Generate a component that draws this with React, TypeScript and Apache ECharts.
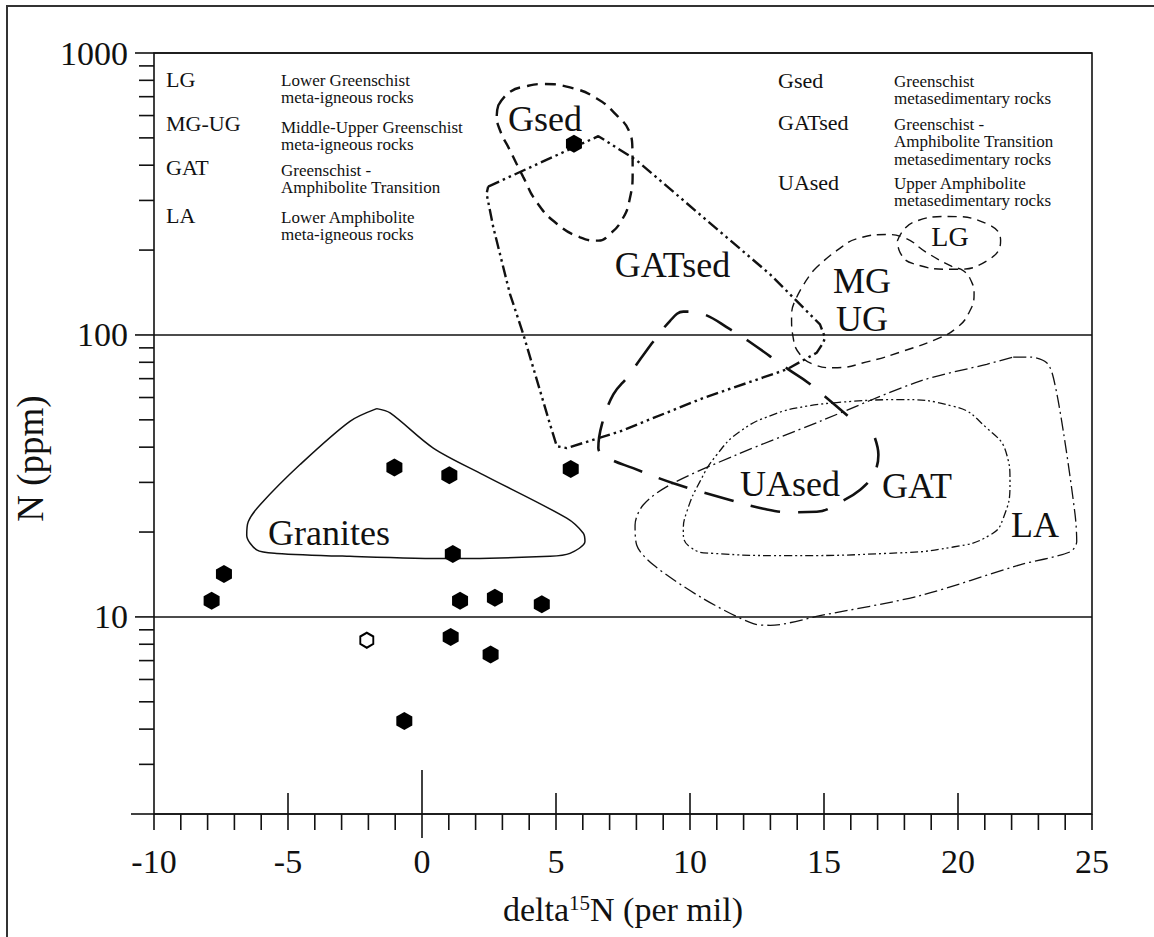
import React, { useEffect, useRef } from "react";
import * as echarts from "echarts";

const FONT = '"Liberation Serif", "Times New Roman", Times, serif';
const INK = "#111";

// ---- axes ----
const X_MIN = -10;
const X_MAX = 25;
const Y_MIN = 2;
const Y_MAX = 1000;
const xTickValues = [-10, -9, -8, -7, -6, -5, -4, -3, -2, -1, 0, 1, 2, 3, 4, 5, 6, 7, 8, 9, 10, 11, 12, 13, 14, 15, 16, 17, 18, 19, 20, 21, 22, 23, 24, 25];
const yTickValues = [3, 4, 5, 6, 7, 8, 9, 10, 20, 30, 40, 50, 60, 70, 80, 90, 100, 200, 300, 400, 500, 600, 700, 800, 900, 1000];

// ---- samples (delta15N, N ppm) ----
const filledSamples = [
  [-7.85, 11.4], [-7.39, 14.2], [-1.03, 33.9], [1.02, 31.8], [1.15, 16.7], [1.42, 11.4],
  [2.72, 11.7], [4.47, 11.1], [1.07, 8.49], [2.56, 7.35], [-0.66, 4.27], [5.55, 33.5], [5.67, 477],
];
const openSamples = [[-2.06, 8.27]];

// ---- field outlines (delta15N, N ppm) ----
const granitesField = [
  [-1.69, 54.8], [-2.69, 49.4], [-4.55, 34.7], [-6.04, 25.0], [-6.48, 21.8], [-6.54, 19.5], [-6.17, 17.3],
  [-5.42, 16.8], [-2.69, 16.4], [1.04, 16.1], [4.78, 16.4], [5.52, 16.8], [6.08, 18.5], [6.02, 19.8],
  [5.40, 22.4], [2.29, 31.9], [0.42, 39.7], [-1.19, 52.9], [-1.69, 54.8],
];
const gsedField = [
  [2.85, 653], [3.28, 728], [3.91, 763], [4.53, 776], [5.52, 755], [6.52, 690], [7.26, 602], [7.74, 525],
  [7.85, 458], [7.86, 383], [7.74, 300], [7.45, 255], [7.01, 228], [6.58, 216], [5.90, 222], [5.03, 248],
  [4.28, 296], [3.78, 363], [3.28, 452], [2.91, 532], [2.79, 602], [2.85, 653],
];
const gatsedField = [
  [2.47, 336], [6.58, 507], [6.83, 490], [8.01, 416], [10.50, 261], [12.99, 164], [14.85, 109], [15.04, 97.8],
  [14.97, 93.9], [14.73, 86.5], [13.61, 75.5], [10.50, 59.8], [7.39, 45.5], [5.40, 39.7], [5.03, 40.3],
  [4.78, 48.1], [3.78, 100.6], [3.28, 140], [2.66, 241], [2.41, 317], [2.47, 336],
];
const uasedField = [
  [16.90, 43.1], [17.03, 37.6], [16.84, 31.9], [16.34, 28.2], [15.66, 25.7], [14.73, 23.6], [13.73, 23.5],
  [12.74, 24.2], [11.49, 26.0], [9.38, 29.8], [7.88, 33.7], [6.95, 36.6], [6.58, 39.7], [6.71, 48.1],
  [7.14, 61.5], [7.70, 71.5], [8.32, 86.5], [9.25, 112], [9.75, 121], [10.50, 118.5], [11.49, 104.8],
  [12.18, 95.2], [13.67, 75.5], [14.41, 67.7], [15.97, 50.8],
];
const mgugField = [
  [14.60, 169], [15.47, 199], [16.34, 221], [17.34, 227], [17.96, 222], [18.83, 196], [19.77, 175],
  [20.20, 169], [20.51, 154], [20.60, 140], [20.38, 118.5], [19.95, 106], [19.33, 97.8], [17.96, 87.7],
  [16.72, 80.8], [15.35, 76.5], [14.60, 78.7], [14.10, 85.4], [13.85, 97.8], [13.79, 115], [13.98, 136],
  [14.60, 169],
];
const lgField = [
  [17.74, 216], [18.33, 251], [19.64, 263], [21.07, 248], [21.59, 216], [21.07, 183], [19.82, 171],
  [18.33, 179], [17.84, 196], [17.74, 216],
];
const gatField = [
  [15.35, 57.4], [17.71, 59.0], [19.82, 55.9], [21.07, 46.8], [21.82, 37.6], [21.94, 30.2], [21.69, 22.4],
  [21.19, 19.5], [19.82, 17.7], [17.34, 16.8], [13.61, 16.5], [10.87, 16.8], [10.00, 17.7], [9.75, 20.1],
  [9.88, 23.6], [10.37, 30.2], [11.00, 37.6], [11.87, 45.5], [13.11, 52.2], [14.35, 55.9], [15.35, 57.4],
];
const laField = [
  [22.06, 83.5], [22.69, 83.5], [23.31, 79.7], [23.56, 70.5], [23.93, 45.5], [24.37, 23.0], [24.43, 18.5],
  [24.18, 17.0], [22.31, 15.3], [18.58, 11.9], [14.85, 10.1], [12.99, 9.34], [12.36, 9.47], [10.50, 11.6],
  [8.63, 15.3], [8.01, 18.0], [7.95, 21.2], [8.26, 25.0], [9.25, 29.4], [11.74, 37.6], [14.85, 49.4],
  [18.58, 68.6], [21.07, 78.7], [22.06, 83.5],
];

// ---- field labels ----
const fieldLabelText = ["Gsed", "GATsed", "MG\nUG", "LG", "UAsed", "GAT", "LA", "Granites"];
const fieldLabelX = [4.59, 9.35, 16.42, 19.7, 13.73, 18.47, 22.87, -3.47];
const fieldLabelY = [582, 177, 133, 223, 29.7, 29.2, 21.1, 19.9];

// ---- legend text ----
const legendAbbrLeft = ["LG", "MG-UG", "GAT", "LA"];
const legendDescLeft = [
  "Lower Greenschist\nmeta-igneous rocks",
  "Middle-Upper Greenschist\nmeta-igneous rocks",
  "Greenschist -\nAmphibolite Transition",
  "Lower Amphibolite\nmeta-igneous rocks",
];
const legendAbbrRight = ["Gsed", "GATsed", "UAsed"];
const legendDescRight = [
  "Greenschist\nmetasedimentary rocks",
  "Greenschist -\nAmphibolite Transition\nmetasedimentary rocks",
  "Upper Amphibolite\nmetasedimentary rocks",
];

const HEX = "path://M50,0 L93.3,25 L93.3,75 L50,100 L6.7,75 L6.7,25 Z";

function contour(name: string, data: number[][], type: any, width: number, smooth: number | boolean) {
  return {
    type: "line",
    name,
    data,
    symbol: "none",
    showSymbol: false,
    smooth,
    silent: true,
    z: 3,
    lineStyle: { color: INK, width, type, opacity: 1 },
  };
}

function buildOption() {
  const leftAbbrY = [79, 123, 167, 215];
  const leftDescY = [80, 127, 170, 217];
  const rightAbbrY = [80, 122, 182];
  const rightDescY = [81, 124, 183];
  const LH = 17.5;

  const graphics: any[] = [
    {
      type: "rect",
      silent: true,
      z: -10,
      shape: { x: 7, y: 6, width: 1170, height: 1000 },
      style: { fill: "none", stroke: "#333", lineWidth: 2 },
    },
  ];
  legendAbbrLeft.forEach((t, i) =>
    graphics.push({
      type: "text",
      silent: true,
      x: 166,
      y: leftAbbrY[i],
      style: { text: t, font: `22px ${FONT}`, fill: INK, verticalAlign: "middle", align: "left" },
    })
  );
  legendDescLeft.forEach((t, i) =>
    graphics.push({
      type: "text",
      silent: true,
      x: 281,
      y: leftDescY[i] - LH / 2,
      style: { text: t, font: `17px ${FONT}`, fill: INK, verticalAlign: "top", align: "left", lineHeight: LH },
    })
  );
  legendAbbrRight.forEach((t, i) =>
    graphics.push({
      type: "text",
      silent: true,
      x: 778,
      y: rightAbbrY[i],
      style: { text: t, font: `22px ${FONT}`, fill: INK, verticalAlign: "middle", align: "left" },
    })
  );
  legendDescRight.forEach((t, i) =>
    graphics.push({
      type: "text",
      silent: true,
      x: 894,
      y: rightDescY[i] - LH / 2,
      style: { text: t, font: `17px ${FONT}`, fill: INK, verticalAlign: "top", align: "left", lineHeight: LH },
    })
  );

  const tickStyle = { stroke: INK, lineWidth: 1.6 };

  return {
    animation: false,
    backgroundColor: "#fff",
    grid: {
      left: 154,
      right: 62,
      top: 53,
      bottom: 123,
      show: true,
      borderColor: INK,
      borderWidth: 1.6,
      backgroundColor: "transparent",
      outerBoundsMode: "none",
    },
    xAxis: {
      type: "value",
      min: X_MIN,
      max: X_MAX,
      interval: 5,
      axisLine: { show: false },
      axisTick: { show: false },
      splitLine: { show: false },
      axisLabel: { fontFamily: FONT, fontSize: 34, color: INK, margin: 30 },
      name: "{a|delta}{s|15}{a|N (per mil)}",
      nameLocation: "middle",
      nameGap: 78,
      nameTextStyle: {
        fontFamily: FONT,
        fontSize: 34,
        color: INK,
        rich: {
          a: { fontFamily: FONT, fontSize: 34, color: INK },
          s: { fontFamily: FONT, fontSize: 21, color: INK, verticalAlign: "top" },
        },
      },
    },
    yAxis: {
      type: "log",
      logBase: 10,
      min: Y_MIN,
      max: Y_MAX,
      axisLine: { show: false },
      axisTick: { show: false },
      splitLine: { show: true, lineStyle: { color: INK, width: 1.6 } },
      axisLabel: {
        fontFamily: FONT,
        fontSize: 34,
        color: INK,
        margin: 26,
        formatter: (v: number) => {
          const l = Math.log10(v);
          return Math.abs(l - Math.round(l)) < 1e-6 && v >= 10 ? String(Math.round(v)) : "";
        },
      },
      name: "N (ppm)",
      nameLocation: "middle",
      nameRotate: 90,
      nameGap: 72,
      nameTextStyle: { fontFamily: FONT, fontSize: 37, color: INK, padding: [0, 50, 0, 0] },
    },
    graphic: graphics,
    series: [
      {
        type: "custom",
        name: "xTicks",
        silent: true,
        clip: false,
        z: 2,
        data: xTickValues.map((v) => [v, Y_MIN]),
        renderItem: (params: any, api: any) => {
          const v = api.value(0);
          const p = api.coord([v, api.value(1)]);
          let up = 0;
          let down = 16;
          if (v === 0) {
            up = 44;
            down = 24;
          } else if (v % 5 === 0 && v !== X_MIN && v !== X_MAX) {
            up = 21;
            down = 16;
          }
          const children: any[] = [
            { type: "line", shape: { x1: p[0], y1: p[1] - up, x2: p[0], y2: p[1] + down }, style: tickStyle },
          ];
          if (v === X_MIN) {
            children.push({ type: "line", shape: { x1: p[0] - 23, y1: p[1], x2: p[0], y2: p[1] }, style: tickStyle });
          }
          return { type: "group", children };
        },
      },
      {
        type: "custom",
        name: "yTicks",
        silent: true,
        clip: false,
        z: 2,
        data: yTickValues.map((v) => [X_MIN, v]),
        renderItem: (params: any, api: any) => {
          const v = api.value(1);
          const p = api.coord([api.value(0), v]);
          const l = Math.log10(v);
          const major = Math.abs(l - Math.round(l)) < 1e-6;
          const len = major ? 19 : 15;
          return { type: "line", shape: { x1: p[0] - len, y1: p[1], x2: p[0], y2: p[1] }, style: tickStyle };
        },
      },
      contour("Granites", granitesField, "solid", 1.5, 0.3),
      contour("Gsed", gsedField, [11, 7], 2.4, 0.5),
      contour("GATsed", gatsedField, [12, 4, 2.5, 4, 2.5, 4], 2.4, false),
      contour("UAsed", uasedField, [30, 18], 2.6, 0.4),
      contour("MG-UG", mgugField, [9, 6], 1.4, 0.5),
      contour("LG", lgField, [9, 6], 1.4, 0.5),
      contour("GAT", gatField, [8, 3, 2, 3, 2, 3], 1.3, 0.5),
      contour("LA", laField, [13, 4, 2, 4], 1.3, 0.3),
      {
        type: "scatter",
        name: "samples",
        data: filledSamples,
        symbol: HEX,
        symbolSize: [16, 18],
        z: 5,
        itemStyle: { color: "#000", opacity: 1 },
      },
      {
        type: "scatter",
        name: "open sample",
        data: openSamples,
        symbol: HEX,
        symbolSize: [13, 15],
        z: 5,
        itemStyle: { color: "#fff", borderColor: "#000", borderWidth: 2, opacity: 1 },
      },
      {
        type: "scatter",
        name: "fieldLabels",
        silent: true,
        z: 6,
        symbolSize: 1,
        itemStyle: { color: "rgba(0,0,0,0)", opacity: 1 },
        data: fieldLabelText.map((t, i) => ({
          name: t,
          value: [fieldLabelX[i], fieldLabelY[i]],
          label: t === "LG" ? { fontSize: 28 } : undefined,
        })),
        label: {
          show: true,
          position: "inside",
          formatter: "{b}",
          fontFamily: FONT,
          fontSize: 36,
          lineHeight: 38,
          color: INK,
          opacity: 1,
        },
      },
    ],
  };
}

export default function App() {
  const ref = useRef<HTMLDivElement>(null);
  useEffect(() => {
    if (!ref.current) return;
    const chart = echarts.init(ref.current, undefined, { renderer: "svg" });
    chart.setOption(buildOption() as any);
    return () => chart.dispose();
  }, []);
  return (
    <div
      ref={ref}
      style={{ position: "fixed", left: 0, top: 0, width: 1154, height: 937, background: "#fff" }}
    />
  );
}
